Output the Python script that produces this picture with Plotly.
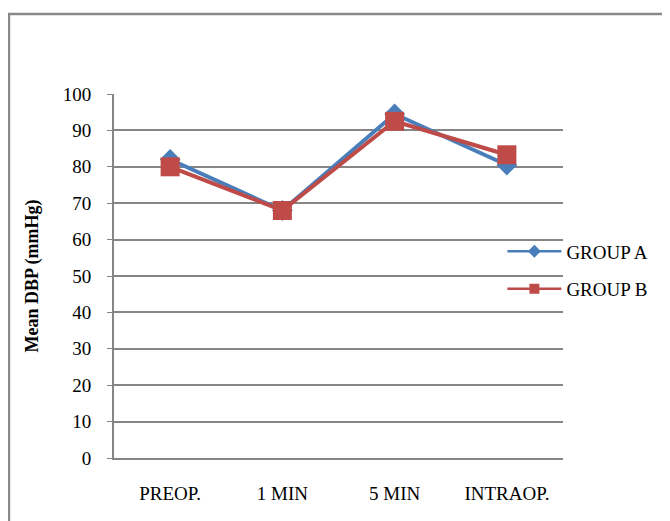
import plotly.graph_objects as go

categories = ["PREOP.", "1 MIN", "5 MIN", "INTRAOP."]
group_a = [82, 68, 94.5, 80.5]
group_b = [80, 68, 92.5, 83.3]
y_ticks = [0, 10, 20, 30, 40, 50, 60, 70, 80, 90, 100]

BLUE = "#4A7EBB"
RED = "#BE4B48"
FONT = "Liberation Serif, Times New Roman, serif"

fig = go.Figure()
fig.add_trace(go.Scatter(x=categories, y=group_a, mode="lines+markers", name="GROUP A",
                         line=dict(color=BLUE, width=4),
                         marker=dict(symbol="diamond", size=16, color=BLUE),
                         showlegend=False))
fig.add_trace(go.Scatter(x=categories, y=group_b, mode="lines+markers", name="GROUP B",
                         line=dict(color=RED, width=4),
                         marker=dict(symbol="square", size=19, color=RED),
                         showlegend=False))
# legend entries with smaller markers
fig.add_trace(go.Scatter(x=[None], y=[None], mode="lines+markers", name="GROUP A",
                         legendgroup="a",
                         line=dict(color=BLUE, width=2.5),
                         marker=dict(symbol="diamond", size=10, color=BLUE)))
fig.add_trace(go.Scatter(x=[None], y=[None], mode="lines+markers", name="GROUP B",
                         legendgroup="b",
                         line=dict(color=RED, width=2.5),
                         marker=dict(symbol="square", size=10, color=RED)))

fig.update_layout(
    width=670, height=521,
    margin=dict(l=106, r=115, t=86, b=71),
    paper_bgcolor="white", plot_bgcolor="white",
    font=dict(family=FONT, color="black", size=19),
    legend=dict(x=0.865, y=0.62, xanchor="left", yanchor="top",
                font=dict(size=19, family=FONT), bgcolor="rgba(0,0,0,0)",
                tracegroupgap=10, itemwidth=54),
    xaxis=dict(type="category", range=[-0.5, 3.5], showgrid=False,
               showline=True, linecolor="#868686", linewidth=2,
               ticks="", ticklabelstandoff=17,
               tickfont=dict(size=19, family=FONT)),
    yaxis=dict(range=[0, 100], tickvals=y_ticks, showgrid=True,
               gridcolor="#868686", gridwidth=1.5,
               showline=True, linecolor="#868686", linewidth=2,
               ticks="outside", ticklen=5, tickcolor="#868686",
               zeroline=False, ticklabelstandoff=12,
               tickfont=dict(size=19, family=FONT),
               title=dict(text="<b>Mean DBP (mmHg)</b>", standoff=19,
                          font=dict(size=18, family=FONT))),
    shapes=[dict(type="rect", xref="paper", yref="paper",
                 x0=-0.234, x1=1.3, y0=-0.3, y1=1.22,
                 line=dict(color="#8a8a8a", width=2.5), layer="below")],
)

fig.write_html("out.html")
